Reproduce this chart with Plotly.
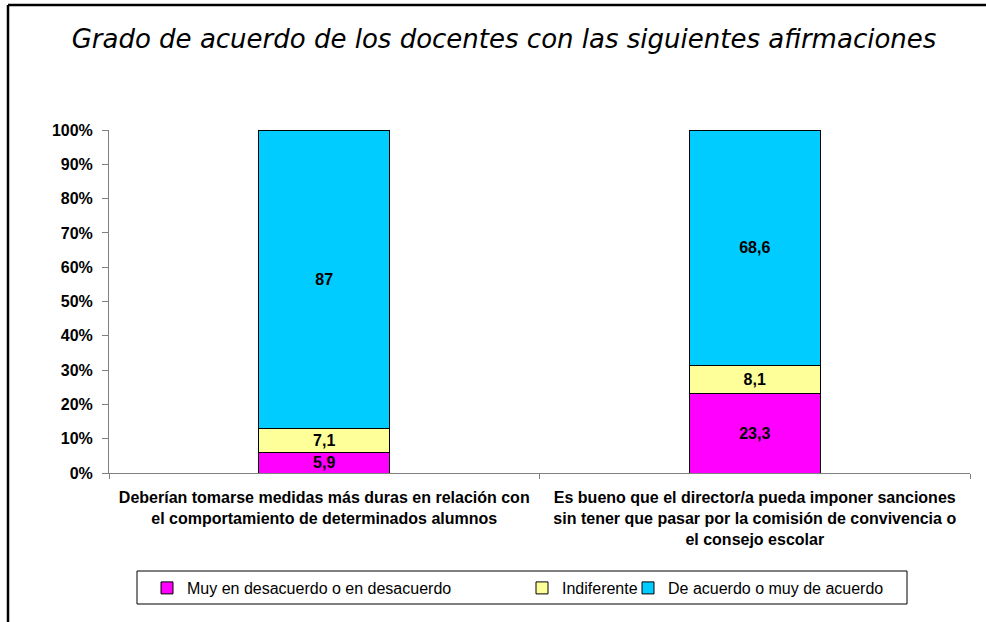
import plotly.graph_objects as go

categories = [
    "Deberían tomarse medidas más duras en relación con<br>el comportamiento de determinados alumnos",
    "Es bueno que el director/a pueda imponer sanciones<br>sin tener que pasar por la comisión de convivencia o<br>el consejo escolar",
]
series_names = [
    "Muy en desacuerdo o en desacuerdo",
    "Indiferente",
    "De acuerdo o muy de acuerdo",
]
desacuerdo = [5.9, 23.3]
indiferente = [7.1, 8.1]
acuerdo = [87, 68.6]
y_ticks = [0, 10, 20, 30, 40, 50, 60, 70, 80, 90, 100]
colors = ["#FF00FF", "#FFFF99", "#00CCFF"]

FONT = "Liberation Sans, Arial, sans-serif"

def fmt(v):
    return ("%g" % v).replace(".", ",")

fig = go.Figure()
legends = ["legend", "legend2", "legend3"]
for name, vals, col, lg in zip(series_names, [desacuerdo, indiferente, acuerdo], colors, legends):
    fig.add_trace(go.Bar(
        x=categories, y=vals, name=name,
        marker=dict(color=col, line=dict(color="#000000", width=1)),
        text=[fmt(v) for v in vals],
        textposition="inside", insidetextanchor="middle", textangle=0,
        constraintext="none",
        textfont=dict(family=FONT, size=16, color="#000000", weight="bold"),
        legend=lg,
    ))

W, H = 986, 622
L, R, T, B = 109, 16, 130, 149
pw, ph = W - L - R, H - T - B

def px(x):
    return (x - L) / pw

def py(y):
    return (H - B - y) / ph

leg_common = dict(
    orientation="h", yanchor="middle", xanchor="left",
    font=dict(family=FONT, size=16, color="#000000"),
    bgcolor="rgba(0,0,0,0)", borderwidth=0,
    itemclick=False, itemdoubleclick=False,
)

fig.update_layout(
    width=W, height=H,
    margin=dict(l=L, r=R, t=T, b=B),
    paper_bgcolor="#FFFFFF", plot_bgcolor="#FFFFFF",
    barmode="stack", bargap=0.695,
    showlegend=True,
    title=dict(
        text="<i>Grado de acuerdo de los docentes con las siguientes afirmaciones</i>",
        xref="container", x=504 / W, xanchor="center",
        yref="container", y=1 - 39 / H, yanchor="middle",
        font=dict(family="DejaVu Sans, Verdana, sans-serif", size=26, color="#000000"),
    ),
    legend=dict(x=px(147), y=py(588), **leg_common),
    legend2=dict(x=px(522), y=py(588), **leg_common),
    legend3=dict(x=px(628), y=py(588), **leg_common),
    xaxis=dict(
        showline=True, linecolor="#808080", linewidth=1,
        ticks="outside", tickson="boundaries", ticklen=5, tickcolor="#808080",
        tickfont=dict(family=FONT, size=16, color="#000000", weight="bold"),
        showgrid=False, zeroline=False, fixedrange=True,
        ticklabelstandoff=10,
    ),
    yaxis=dict(
        range=[0, 100], tickvals=y_ticks, ticktext=[f"{v}%" for v in y_ticks],
        showline=True, linecolor="#808080", linewidth=1,
        ticks="outside", ticklen=6, tickcolor="#808080",
        tickfont=dict(family=FONT, size=16, color="#000000", weight="bold"),
        showgrid=False, zeroline=False, fixedrange=True,
        ticklabelstandoff=6,
    ),
    shapes=[
        dict(type="rect", xref="paper", yref="paper",
             x0=px(137), x1=px(907), y0=py(604), y1=py(571),
             line=dict(color="#000000", width=1), fillcolor="rgba(0,0,0,0)", layer="below"),
        dict(type="line", xref="paper", yref="paper",
             x0=px(8), x1=px(990), y0=py(5), y1=py(5),
             line=dict(color="#000000", width=2.5)),
        dict(type="line", xref="paper", yref="paper",
             x0=px(8), x1=px(8), y0=py(5), y1=py(630),
             line=dict(color="#000000", width=2.5)),
    ],
)

fig.write_html(
    "out.html",
    config={"displayModeBar": False},
    post_script="document.body.style.margin='0';document.body.style.overflow='hidden';",
)
